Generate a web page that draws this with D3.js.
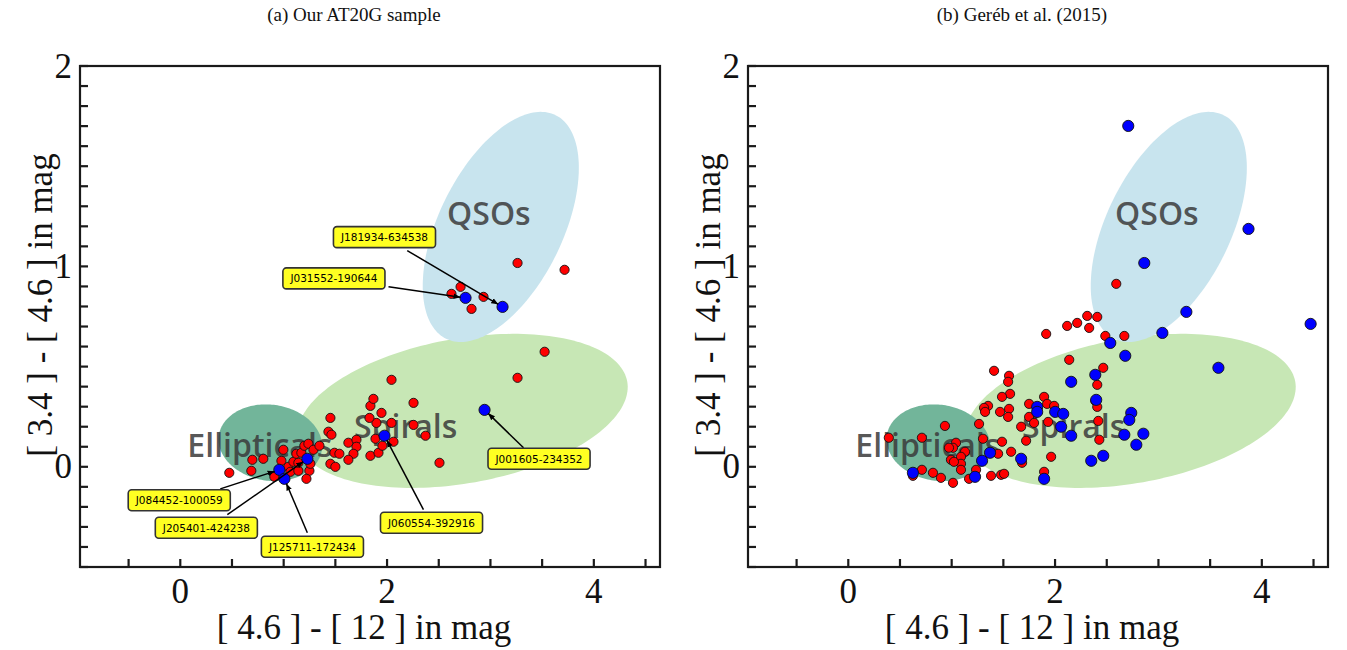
<!DOCTYPE html>
<html><head><meta charset="utf-8">
<script src="https://cdn.jsdelivr.net/npm/d3@7"></script>
<style>body{margin:0;background:#fff}</style></head>
<body>
<svg id="chart" width="1347" height="650"></svg>
<script>
// ---------- data ----------
const panelTitles = ["(a) Our AT20G sample", "(b) Geréb et al. (2015)"];
const xAxisTitle = "[ 4.6 ] - [ 12 ] in mag";
const yAxisTitle = "[ 3.4 ] - [ 4.6 ] in mag";
const xDomain = [-0.97, 4.64];
const yDomain = [-0.5, 2];
const xTickValues = [-0.5, 0, 0.5, 1, 1.5, 2, 2.5, 3, 3.5, 4, 4.5];
const xTickLabels = [0, 2, 4];
const yTickValues = d3.range(-5, 21).map(i => i / 10);
const yTickLabels = [0, 1, 2];

// regions: [cx, cy, semi-major, semi-minor (x units), angle deg]
const regionNames = ["Spirals", "Ellipticals", "QSOs"];
const regionShapes = [
  [2.73, 0.279, 1.618, 0.700, 10.1],
  [0.871, 0.120, 0.503, 0.368, -8],
  [3.10, 1.197, 1.204, 0.599, 63.9]
];
const regionLabelPos = [[2.18, 0.205], [0.77, 0.11], [2.985, 1.267]];

// panel (a)
const aRed = [
  [0.474,-0.030],[0.687,-0.020],[0.697,0.035],[0.803,0.040],[0.910,-0.050],[0.978,0.030],
  [0.997,0.085],[1.045,0.000],[1.065,-0.025],[1.094,0.025],[1.123,0.065],[1.142,-0.020],
  [1.142,0.020],[1.171,0.070],[1.200,0.105],[1.239,0.115],[1.249,-0.020],[1.258,0.015],
  [1.220,-0.060],[1.288,0.085],[1.346,0.105],[1.433,0.175],[1.462,0.160],[1.452,0.244],
  [1.452,0.015],[1.500,0.000],[1.491,0.070],[1.539,0.065],[1.626,0.120],[1.704,0.135],
  [1.704,0.100],[1.675,0.065],[1.626,0.035],[1.839,0.055],[1.917,0.070],[1.955,0.105],
  [2.062,0.125],[1.888,0.140],[1.897,0.219],[1.830,0.244],[1.946,0.269],[1.839,0.304],
  [1.868,0.339],[2.043,0.219],[2.043,0.434],[2.256,0.319],[2.256,0.209],[2.372,0.155],
  [2.507,0.020],[3.262,0.444],[3.524,0.574],[2.623,0.863],[2.711,0.898],[2.817,0.788],
  [2.933,0.848],[3.262,1.017],[3.717,0.983]
];
const aBlue = [
  [0.958,-0.015],[1.007,-0.060],[1.229,0.040],[1.975,0.155],[2.943,0.284],[2.759,0.843],[3.117,0.798]
];
// annotations: name, index into aBlue, label centre, arrow tail
const annNames = ["J181934-634538","J031552-190644","J001605-234352","J060554-392916",
                  "J084452-100059","J205401-424238","J125711-172434"];
const annTargets = [6, 5, 4, 3, 0, 2, 1];
const annLabelPos = [[1.975,1.146],[1.486,0.940],[3.470,0.040],[2.430,-0.279],
                     [-0.010,-0.167],[0.252,-0.304],[1.278,-0.399]];
const annTailPos = [[2.195,1.079],[2.014,0.898],[3.320,0.095],[2.352,-0.214],
                    [0.387,-0.110],[0.455,-0.239],[1.229,-0.329]];

// panel (b)
const bRed = [
  [2.592,0.913],[2.117,0.703],[2.214,0.718],[2.311,0.753],[2.408,0.748],[2.330,0.693],
  [1.914,0.663],[2.486,0.653],[2.670,0.653],[2.137,0.534],[2.466,0.494],[1.410,0.479],
  [1.555,0.454],[1.546,0.424],[2.408,0.409],[1.565,0.364],[1.487,0.349],[1.894,0.349],
  [1.352,0.304],[1.313,0.294],[1.323,0.274],[1.468,0.274],[1.555,0.289],[1.546,0.249],
  [1.749,0.314],[1.923,0.314],[1.991,0.304],[1.749,0.249],[1.797,0.219],[1.933,0.224],
  [1.672,0.200],[1.265,0.214],[2.389,0.329],[2.408,0.299],[2.418,0.229],[2.428,0.135],
  [1.303,0.140],[1.487,0.125],[1.720,0.130],[1.449,0.065],[1.575,0.075],[1.129,0.075],
  [1.090,0.050],[1.090,0.015],[1.681,0.020],[1.962,0.050],[1.236,-0.015],[1.168,-0.060],
  [1.381,-0.045],[1.478,-0.040],[1.507,-0.035],[1.894,-0.025],[0.935,0.204],[0.392,0.145],
  [0.712,0.145],[1.042,0.120],[1.013,0.095],[0.974,0.095],[0.993,0.035],[1.022,0.025],
  [1.090,-0.015],[0.712,-0.015],[0.819,-0.030],[0.896,-0.055],[1.013,-0.080],[0.625,-0.045]
];
const bBlue = [
  [2.708,1.701],[3.871,1.187],[2.863,1.017],[3.270,0.773],[4.472,0.713],[3.038,0.668],
  [2.534,0.618],[2.679,0.554],[3.580,0.494],[2.389,0.459],[2.156,0.424],[2.398,0.334],
  [1.827,0.299],[1.827,0.274],[2.001,0.274],[2.079,0.264],[2.059,0.200],[2.156,0.155],
  [2.737,0.269],[2.718,0.234],[2.670,0.160],[2.854,0.165],[2.786,0.110],[2.466,0.055],
  [2.350,0.030],[1.672,0.040],[1.371,0.070],[1.294,0.030],[1.226,-0.050],[1.894,-0.060],
  [0.625,-0.030]
];

// ---------- drawing ----------
const svg = d3.select("#chart");
const serif = "'Liberation Serif','DejaVu Serif',serif";
const regionColors = ["#c7e7b5", "#72b59a", "#c8e4ee"];

const defs = svg.append("defs");
defs.append("marker").attr("id","arrow").attr("viewBox","0 0 10 10")
  .attr("refX",10).attr("refY",5).attr("markerWidth",7).attr("markerHeight",7)
  .attr("markerUnits","userSpaceOnUse").attr("orient","auto")
  .append("path").attr("d","M0,1 L10,5 L0,9 Z").attr("fill","#000");

function drawPanel(left, title, red, blue, annotate) {
  const top = 66, bottom = 567, width = 580;
  const x = d3.scaleLinear().domain(xDomain).range([left, left + width]);
  const y = d3.scaleLinear().domain(yDomain).range([bottom, top]);
  const g = svg.append("g");
  const kx = x(1) - x(0);

  g.append("text").attr("x", left + width / 2 - 16).attr("y", 21)
    .attr("text-anchor","middle").attr("font-family",serif).attr("font-size",19)
    .attr("fill","#111").text(title);

  const clipId = "clip" + left;
  defs.append("clipPath").attr("id", clipId).append("rect")
    .attr("x", left).attr("y", top).attr("width", width).attr("height", bottom - top);
  const plot = g.append("g").attr("clip-path", `url(#${clipId})`);

  // regions
  const line = d3.line().curve(d3.curveLinearClosed);
  regionShapes.forEach((s, i) => {
    const [cx, cy, a, b, ang] = s;
    const th = ang * Math.PI / 180;
    const pts = d3.range(0, 180).map(k => {
      const t = k / 180 * 2 * Math.PI;
      const dx = a * Math.cos(t) * Math.cos(th) - b * Math.sin(t) * Math.sin(th);
      const dy = a * Math.cos(t) * Math.sin(th) + b * Math.sin(t) * Math.cos(th);
      return [x(cx) + kx * dx, y(cy) - kx * dy];
    });
    plot.append("path").attr("d", line(pts)).attr("fill", regionColors[i]);
  });
  regionNames.forEach((n, i) => {
    plot.append("text").attr("x", x(regionLabelPos[i][0])).attr("y", y(regionLabelPos[i][1]))
      .attr("text-anchor","middle").attr("dominant-baseline","central")
      .attr("font-family","'Open Sans','Noto Sans',sans-serif").attr("font-size",32)
      .attr("font-weight",600)
      .attr("fill","#3a3a3a").attr("fill-opacity",0.85).text(n);
  });

  // points
  plot.selectAll(null).data(red).enter().append("circle")
    .attr("cx", d => x(d[0])).attr("cy", d => y(d[1])).attr("r", 4.6)
    .attr("fill","#ff0000").attr("stroke","#111").attr("stroke-width",0.9);
  plot.selectAll(null).data(blue).enter().append("circle")
    .attr("cx", d => x(d[0])).attr("cy", d => y(d[1])).attr("r", 5.6)
    .attr("fill","#0000ff").attr("stroke","#111").attr("stroke-width",0.9);

  // annotations
  if (annotate) {
    annNames.forEach((n, i) => {
      const tgt = blue[annTargets[i]];
      const x1 = x(annTailPos[i][0]), y1 = y(annTailPos[i][1]);
      const x2 = x(tgt[0]), y2 = y(tgt[1]);
      const L = Math.hypot(x2 - x1, y2 - y1), sh = 5;
      g.append("line").attr("x1", x1).attr("y1", y1)
        .attr("x2", x2 - (x2 - x1) / L * sh).attr("y2", y2 - (y2 - y1) / L * sh)
        .attr("stroke","#000").attr("stroke-width",1.5).attr("marker-end","url(#arrow)");
    });
    annNames.forEach((n, i) => {
      const cx = x(annLabelPos[i][0]), cy = y(annLabelPos[i][1]);
      const lg = g.append("g");
      const r = lg.append("rect");
      const t = lg.append("text").attr("x", cx).attr("y", cy)
        .attr("text-anchor","middle").attr("dominant-baseline","central")
        .attr("font-family","'DejaVu Sans',sans-serif").attr("font-size",10.5)
        .attr("fill","#000").text(n);
      const w = t.node().getComputedTextLength() + 15;
      r.attr("x", cx - w / 2).attr("y", cy - 10.5).attr("width", w).attr("height", 21)
        .attr("rx", 3.5).attr("fill","#ffff22").attr("stroke","#333").attr("stroke-width",1.6);
    });
  }

  // frame & ticks
  g.append("rect").attr("x", left).attr("y", top).attr("width", width).attr("height", bottom - top)
    .attr("fill","none").attr("stroke","#1a1a1a").attr("stroke-width",2.2);
  g.selectAll(null).data(xTickValues).enter().append("line")
    .attr("x1", d => x(d)).attr("x2", d => x(d)).attr("y1", bottom).attr("y2", bottom - 8)
    .attr("stroke","#1a1a1a").attr("stroke-width",2.2);
  g.selectAll(null).data(yTickValues).enter().append("line")
    .attr("x1", left).attr("x2", left + 8).attr("y1", d => y(d)).attr("y2", d => y(d))
    .attr("stroke","#1a1a1a").attr("stroke-width",2.2);
  g.selectAll(null).data(xTickLabels).enter().append("text")
    .attr("x", d => x(d)).attr("y", bottom + 36).attr("text-anchor","middle")
    .attr("font-family",serif).attr("font-size",35).attr("fill","#111").text(d => d);
  g.selectAll(null).data(yTickLabels).enter().append("text")
    .attr("x", left - 8).attr("y", d => y(d)).attr("text-anchor","end")
    .attr("dominant-baseline","central")
    .attr("font-family",serif).attr("font-size",35).attr("fill","#111").text(d => d);

  g.append("text").attr("x", left + width / 2 - 6).attr("y", bottom + 72)
    .attr("text-anchor","middle").attr("font-family",serif).attr("font-size",35)
    .attr("fill","#111").text(xAxisTitle);
  g.append("text").attr("transform", `translate(${left - 28},${305}) rotate(-90)`)
    .attr("text-anchor","middle").attr("font-family",serif).attr("font-size",35)
    .attr("fill","#111").text(yAxisTitle);
}

drawPanel(80, panelTitles[0], aRed, aBlue, true);
drawPanel(748, panelTitles[1], bRed, bBlue, false);
</script>
</body></html>
